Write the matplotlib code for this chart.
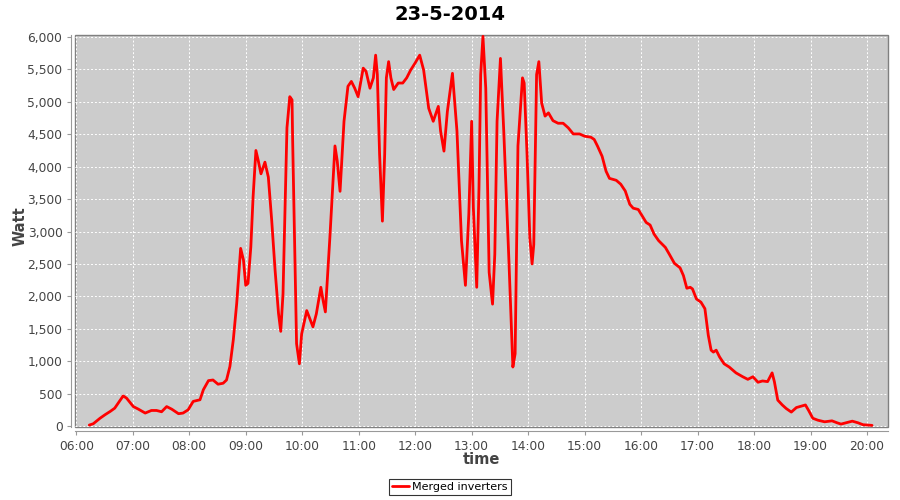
import datetime

import matplotlib.dates as mdates
import matplotlib.pyplot as plt
from matplotlib.ticker import FuncFormatter

DAY = datetime.datetime(2014, 5, 23)
TITLE = "23-5-2014"
SERIES = "Merged inverters"

# hour of day (decimal) and merged inverter power in Watt
hours = [
    6.23, 6.30, 6.42, 6.51, 6.60, 6.68, 6.74, 6.83, 6.89, 7.01, 7.10, 7.22, 7.33, 7.42,
    7.51, 7.60, 7.69, 7.81, 7.89, 7.98, 8.07, 8.19, 8.25, 8.34, 8.42, 8.51, 8.60, 8.66,
    8.72, 8.78, 8.84, 8.91, 8.96, 9.00, 9.04, 9.09, 9.13, 9.18, 9.22, 9.27, 9.34, 9.40,
    9.46, 9.52, 9.58, 9.62, 9.66, 9.73, 9.78, 9.82, 9.83, 9.90, 9.95, 9.99, 10.08, 10.19,
    10.25, 10.33, 10.37, 10.41, 10.49, 10.58, 10.62, 10.67, 10.74, 10.81, 10.87, 10.93,
    10.99, 11.08, 11.13, 11.20, 11.26, 11.30, 11.33, 11.37, 11.42, 11.46, 11.49, 11.53,
    11.57, 11.62, 11.70, 11.78, 11.85, 11.92, 12.00, 12.08, 12.15, 12.24, 12.32, 12.41,
    12.45, 12.51, 12.57, 12.66, 12.74, 12.82, 12.89, 12.95, 13.00, 13.03, 13.09, 13.13,
    13.16, 13.20, 13.25, 13.31, 13.37, 13.41, 13.45, 13.51, 13.57, 13.66, 13.73, 13.77,
    13.82, 13.90, 13.93, 13.98, 14.03, 14.07, 14.10, 14.15, 14.19, 14.24, 14.30, 14.36,
    14.44, 14.53, 14.62, 14.71, 14.80, 14.91, 15.00, 15.11, 15.17, 15.23, 15.31, 15.38,
    15.44, 15.56, 15.64, 15.72, 15.80, 15.86, 15.95, 16.02, 16.09, 16.16, 16.23, 16.31,
    16.43, 16.50, 16.59, 16.69, 16.75, 16.81, 16.87, 16.91, 16.98, 17.06, 17.13, 17.19,
    17.24, 17.28, 17.33, 17.39, 17.47, 17.56, 17.68, 17.80, 17.89, 17.98, 18.07, 18.15,
    18.24, 18.32, 18.36, 18.42, 18.50, 18.57, 18.66, 18.75, 18.83, 18.91, 18.97, 19.04,
    19.13, 19.25, 19.38, 19.47, 19.54, 19.63, 19.74, 19.84, 19.93, 20.09,
]
watts = [
    15, 35, 120, 175, 225, 275, 350, 465, 430, 300, 260, 200, 240, 240,
    220, 300, 260, 190, 200, 250, 380, 405, 560, 700, 710, 645, 660, 710,
    920, 1330, 1890, 2740, 2560, 2170, 2200, 2760, 3530, 4250, 4100, 3890, 4070, 3840,
    3170, 2400, 1740, 1460, 2040, 4600, 5080, 5030, 4440, 1270, 960, 1420, 1780, 1530,
    1730, 2140, 1935, 1760, 2910, 4320, 4090, 3620, 4700, 5240, 5315, 5210,
    5080, 5520, 5470, 5210, 5370, 5720, 5420, 4190, 3160, 4190, 5370, 5620,
    5370, 5190, 5290, 5290, 5370, 5490, 5600, 5720, 5490, 4900, 4700, 4930,
    4550, 4240, 4850, 5440, 4550, 2860, 2170, 3270, 4700, 3370, 2140, 3680,
    5420, 6010, 5210, 2370, 1880, 2650, 4700, 5670, 4520, 2550, 910, 1115,
    4320, 5370, 5290, 4210, 2910, 2500, 2800, 5420, 5620, 4980, 4780, 4830,
    4710, 4670, 4670, 4600, 4505, 4505, 4470, 4455, 4420, 4315, 4160, 3930,
    3820, 3790, 3730, 3625, 3420, 3360, 3340, 3240, 3140, 3100, 2960, 2860,
    2755, 2650, 2510, 2440, 2320, 2125, 2140, 2115, 1960, 1910, 1810, 1400,
    1170, 1140, 1170, 1065, 960, 910, 820, 760, 720, 760, 675, 695,
    685, 820, 685, 400, 325, 270, 215, 285, 305, 325, 235, 120,
    90, 65, 80, 50, 30, 50, 75, 50, 20, 10,
]

TEXT = "#444444"

times = [DAY + datetime.timedelta(hours=h) for h in hours]

fig = plt.figure(figsize=(9, 5), dpi=100)
ax = fig.add_axes([75 / 900, 1 - 427 / 500, 813 / 900, 392 / 500])

ax.set_facecolor("#cccccc")
ax.patch.set_edgecolor("#808080")
ax.patch.set_linewidth(1.0)

ax.plot(times, watts, color="#ff0000", linewidth=2.0, label=SERIES,
        solid_joinstyle="round", solid_capstyle="round")

ax.set_xlim(DAY + datetime.timedelta(hours=5.977), DAY + datetime.timedelta(hours=20.372))
ax.set_ylim(-15, 6031)
ax.set_yticks(range(0, 6001, 500))
ax.yaxis.set_major_formatter(FuncFormatter(lambda v, p: f"{int(v):,}"))
ax.xaxis.set_major_locator(mdates.HourLocator())
ax.xaxis.set_major_formatter(mdates.DateFormatter("%H:%M"))

ax.grid(True, color="white", linestyle=(0, (2, 2)), linewidth=0.7)
ax.set_axisbelow(True)

for side in ("top", "right"):
    ax.spines[side].set_visible(False)
for side in ("left", "bottom"):
    ax.spines[side].set_position(("outward", 3))
    ax.spines[side].set_color("#999999")
ax.tick_params(colors="#999999", labelcolor=TEXT, labelsize=8.8, length=3, pad=3)

fig.text(0.5, 1 - 14 / 500, TITLE, fontsize=14, fontweight="bold", ha="center", va="center")
ax.set_ylabel("Watt", fontsize=10.5, fontweight="bold", color=TEXT, va="center")
ax.set_xlabel("time", fontsize=10.5, fontweight="bold", color=TEXT, va="center")
ax.yaxis.set_label_coords((20 - 75) / 813, (427 - 226) / 392)
ax.xaxis.set_label_coords((481 - 75) / 813, (427 - 459) / 392)

leg = fig.legend(loc="center", bbox_to_anchor=(450 / 900, 1 - 487 / 500), fontsize=8,
                 frameon=True, fancybox=False, handlelength=1.5, handletextpad=0.3,
                 borderpad=0.3, borderaxespad=0)
leg.get_frame().set_edgecolor("black")
leg.get_frame().set_linewidth(0.8)

fig.savefig("out.png", dpi=100)
